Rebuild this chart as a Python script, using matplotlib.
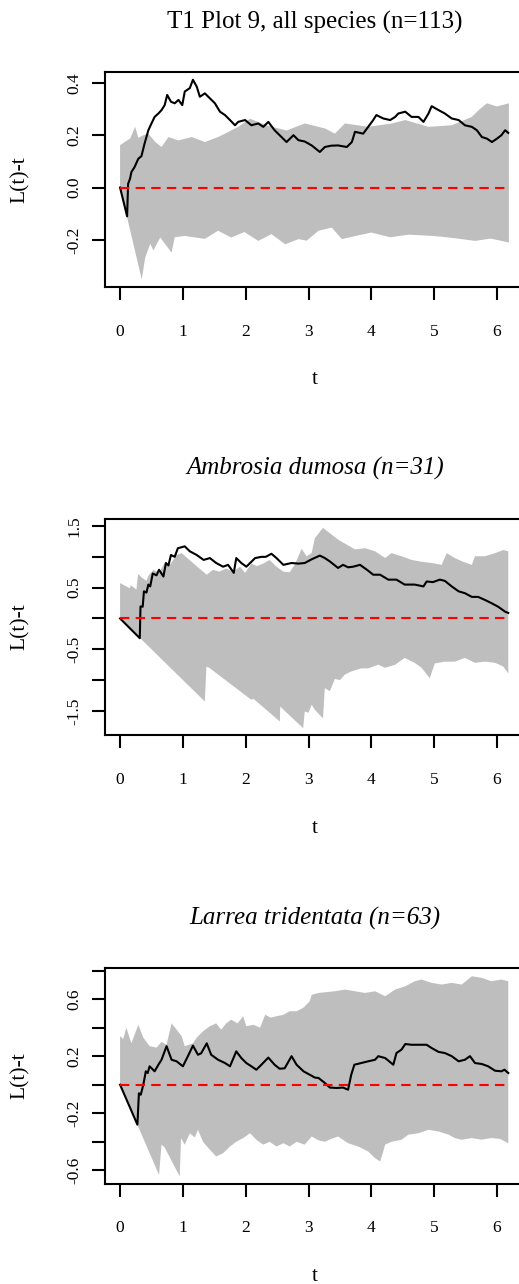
import matplotlib
matplotlib.use("Agg")
import matplotlib.pyplot as plt

plt.rcParams['font.family'] = ['Liberation Serif', 'DejaVu Serif']

#####
#
# values: L(t)-t for each stand, with the
# simulation envelope (upper and lower) in grey
#
#####

T_MAX = 6.19

titles = ["T1 Plot 9, all species (n=113)",
          "Ambrosia dumosa (n=31)",
          "Larrea tridentata (n=63)"]
title_styles = ["normal", "italic", "italic"]

# panel 1 - all species
p1_t = [0, 0.112, 0.128, 0.16, 0.18, 0.23, 0.29, 0.34, 0.39, 0.45, 0.5, 0.55,
        0.61, 0.66, 0.71, 0.75, 0.81, 0.87, 0.93, 0.99, 1.03, 1.11, 1.16, 1.22,
        1.27, 1.35, 1.43, 1.51, 1.59, 1.67, 1.75, 1.83, 1.88, 1.99, 2.09, 2.2,
        2.28, 2.36, 2.46, 2.57, 2.65, 2.76, 2.84, 2.94, 3.05, 3.18, 3.26, 3.36,
        3.47, 3.61, 3.69, 3.74, 3.87, 3.95, 4.03, 4.08, 4.19, 4.3, 4.38, 4.43,
        4.54, 4.64, 4.75, 4.83, 4.91, 4.96, 5.07, 5.17, 5.28, 5.39, 5.49, 5.6,
        5.68, 5.76, 5.84, 5.92, 6.0, 6.07, 6.13, 6.18]
p1_L = [0, -0.11, 0.014, 0.035, 0.059, 0.078, 0.11, 0.12, 0.168, 0.219, 0.245, 0.27,
        0.283, 0.296, 0.315, 0.354, 0.328, 0.322, 0.335, 0.315, 0.367, 0.38, 0.412, 0.386,
        0.347, 0.36, 0.341, 0.322, 0.29, 0.277, 0.258, 0.238, 0.251, 0.258, 0.238, 0.245,
        0.232, 0.251, 0.219, 0.193, 0.174, 0.2, 0.181, 0.176, 0.161, 0.136, 0.155, 0.16,
        0.161, 0.155, 0.174, 0.213, 0.206, 0.232, 0.258, 0.277, 0.264, 0.258, 0.27, 0.283,
        0.29, 0.27, 0.27, 0.251, 0.283, 0.311, 0.296, 0.283, 0.264, 0.258, 0.238, 0.232,
        0.219, 0.193, 0.187, 0.174, 0.187, 0.2, 0.219, 0.209]
p1_hi_t = [0, 0.08, 0.16, 0.24, 0.29, 0.37, 0.45, 0.56, 0.66, 0.77, 0.93, 1.14,
           1.35, 1.56, 1.72, 1.88, 2.07, 2.33, 2.65, 2.94, 3.26, 3.42, 3.58, 3.95,
           4.33, 4.54, 4.91, 5.28, 5.6, 5.71, 5.84, 6.0, 6.19]
p1_hi = [0.162, 0.175, 0.187, 0.232, 0.19, 0.2, 0.206, 0.174, 0.155, 0.193, 0.18, 0.193,
         0.174, 0.193, 0.212, 0.232, 0.263, 0.238, 0.218, 0.245, 0.226, 0.206, 0.245, 0.232,
         0.245, 0.258, 0.232, 0.238, 0.27, 0.296, 0.322, 0.31, 0.322]
p1_lo_t = [0, 0.345, 0.40, 0.48, 0.53, 0.64, 0.74, 0.82, 0.87, 1.03, 1.35, 1.56,
           1.77, 1.98, 2.2, 2.41, 2.63, 2.84, 2.97, 3.16, 3.37, 3.53, 3.75, 4.0,
           4.3, 4.6, 4.98, 5.2, 5.44, 5.65, 5.9, 6.19]
p1_lo = [0, -0.351, -0.268, -0.215, -0.24, -0.191, -0.223, -0.249, -0.19, -0.185, -0.196, -0.165,
         -0.191, -0.17, -0.204, -0.178, -0.217, -0.197, -0.203, -0.165, -0.153, -0.197, -0.185, -0.172,
         -0.19, -0.18, -0.185, -0.19, -0.197, -0.204, -0.195, -0.21]

# panel 2 - Ambrosia dumosa
p2_t = [0, 0.314, 0.325, 0.36, 0.38, 0.42, 0.45, 0.48, 0.52, 0.58, 0.62, 0.69,
        0.73, 0.77, 0.81, 0.87, 0.92, 1.03, 1.11, 1.22, 1.33, 1.43, 1.53, 1.64,
        1.72, 1.81, 1.85, 1.93, 2.01, 2.15, 2.25, 2.32, 2.41, 2.49, 2.6, 2.73,
        2.84, 2.94, 3.05, 3.18, 3.26, 3.34, 3.47, 3.55, 3.63, 3.71, 3.82, 3.93,
        4.03, 4.14, 4.27, 4.4, 4.53, 4.69, 4.83, 4.88, 4.98, 5.09, 5.17, 5.28,
        5.39, 5.49, 5.6, 5.7, 5.81, 5.91, 6.02, 6.13, 6.18]
p2_L = [0, -0.32, 0.195, 0.19, 0.44, 0.42, 0.55, 0.52, 0.73, 0.70, 0.79, 0.68,
        0.90, 0.86, 1.03, 1.0, 1.14, 1.17, 1.09, 1.03, 0.95, 0.98, 0.90, 0.84,
        0.87, 0.74, 0.98, 0.90, 0.84, 0.98, 1.0, 1.0, 1.05, 0.98, 0.87, 0.90,
        0.89, 0.9, 0.96, 1.02, 0.98, 0.925, 0.82, 0.87, 0.83, 0.84, 0.87, 0.79,
        0.71, 0.71, 0.63, 0.63, 0.55, 0.55, 0.52, 0.60, 0.59, 0.63, 0.61, 0.52,
        0.44, 0.41, 0.35, 0.35, 0.30, 0.25, 0.19, 0.11, 0.09]
p2_hi_t = [0, 0.155, 0.17, 0.26, 0.287, 0.35, 0.42, 0.45, 0.53, 0.62, 0.71, 0.80,
           0.90, 0.98, 1.16, 1.38, 1.48, 1.58, 1.69, 1.80, 1.91, 1.99, 2.09, 2.18,
           2.28, 2.38, 2.49, 2.6, 2.7, 2.78, 2.89, 2.97, 3.05, 3.1, 3.23, 3.47,
           3.74, 3.9, 4.06, 4.22, 4.32, 4.48, 4.64, 4.80, 4.96, 5.12, 5.2, 5.33,
           5.46, 5.6, 5.65, 5.81, 5.97, 6.1, 6.18]
p2_hi = [0.574, 0.49, 0.54, 0.47, 0.72, 0.66, 0.61, 0.69, 0.79, 0.74, 0.90, 0.88,
         1.03, 1.06, 0.90, 0.71, 0.79, 0.76, 0.81, 0.76, 0.84, 0.74, 0.89, 0.85,
         0.89, 0.95, 0.84, 0.76, 0.75, 0.87, 1.13, 1.01, 1.06, 1.30, 1.47, 1.28,
         1.12, 1.14, 1.09, 0.98, 1.06, 1.01, 0.95, 0.92, 0.90, 0.87, 1.06, 0.98,
         0.92, 0.87, 1.01, 1.01, 1.06, 1.11, 1.09]
p2_lo_t = [0, 1.349, 1.375, 1.42, 2.09, 2.12, 2.544, 2.55, 2.915, 2.94, 3.0, 3.05,
           3.1, 3.23, 3.26, 3.34, 3.42, 3.5, 3.58, 3.68, 3.84, 3.95, 4.11, 4.22,
           4.38, 4.53, 4.69, 4.8, 4.93, 5.01, 5.17, 5.33, 5.49, 5.65, 5.81, 5.97,
           6.1, 6.18]
p2_lo = [0, -1.347, -0.78, -0.80, -1.32, -1.30, -1.672, -1.43, -1.78, -1.51, -1.53, -1.40,
         -1.48, -1.62, -1.13, -1.18, -0.98, -1.0, -0.91, -0.86, -0.81, -0.81, -0.75, -0.80,
         -0.75, -0.64, -0.72, -0.80, -0.97, -0.73, -0.70, -0.70, -0.64, -0.72, -0.70, -0.72,
         -0.78, -0.89]

# panel 3 - Larrea tridentata
p3_t = [0, 0.276, 0.30, 0.33, 0.37, 0.41, 0.44, 0.47, 0.55, 0.61, 0.66, 0.74,
        0.82, 0.90, 1.0, 1.08, 1.16, 1.24, 1.29, 1.38, 1.45, 1.56, 1.67, 1.75,
        1.85, 1.93, 2.01, 2.09, 2.17, 2.25, 2.36, 2.46, 2.54, 2.62, 2.73, 2.81,
        2.92, 3.02, 3.1, 3.16, 3.26, 3.34, 3.45, 3.55, 3.63, 3.68, 3.73, 3.84,
        3.95, 4.06, 4.11, 4.22, 4.35, 4.40, 4.48, 4.54, 4.64, 4.77, 4.88, 4.96,
        5.07, 5.17, 5.28, 5.39, 5.49, 5.57, 5.65, 5.76, 5.86, 5.97, 6.07, 6.12, 6.18]
p3_L = [0, -0.28, -0.06, -0.07, 0, 0.094, 0.082, 0.129, 0.094, 0.14, 0.175, 0.27,
        0.175, 0.164, 0.129, 0.2, 0.274, 0.21, 0.22, 0.29, 0.21, 0.175, 0.152, 0.129,
        0.234, 0.187, 0.152, 0.129, 0.105, 0.14, 0.19, 0.14, 0.112, 0.115, 0.2, 0.14,
        0.094, 0.07, 0.05, 0.047, 0.012, -0.02, -0.023, -0.02, -0.035, 0.07, 0.14, 0.152,
        0.164, 0.175, 0.2, 0.187, 0.14, 0.222, 0.246, 0.285, 0.28, 0.28, 0.28, 0.257,
        0.23, 0.222, 0.2, 0.164, 0.175, 0.2, 0.152, 0.145, 0.129, 0.098, 0.094, 0.105, 0.082]
p3_hi_t = [0, 0.05, 0.1, 0.18, 0.29, 0.37, 0.47, 0.58, 0.66, 0.74, 0.82, 0.9,
           0.98, 1.03, 1.16, 1.22, 1.32, 1.43, 1.53, 1.61, 1.69, 1.77, 1.87, 1.96,
           2.01, 2.12, 2.23, 2.31, 2.4, 2.49, 2.6, 2.7, 2.81, 2.92, 3.02, 3.05,
           3.16, 3.42, 3.58, 3.74, 3.9, 4.06, 4.22, 4.38, 4.54, 4.69, 4.8, 4.96,
           5.12, 5.28, 5.44, 5.6, 5.76, 5.91, 6.07, 6.18]
p3_hi = [0.34, 0.32, 0.40, 0.29, 0.42, 0.33, 0.27, 0.26, 0.3, 0.28, 0.43, 0.386,
         0.34, 0.27, 0.29, 0.33, 0.374, 0.41, 0.43, 0.386, 0.43, 0.456, 0.43, 0.48,
         0.41, 0.42, 0.40, 0.49, 0.47, 0.48, 0.49, 0.515, 0.515, 0.54, 0.585, 0.63,
         0.643, 0.655, 0.667, 0.655, 0.643, 0.655, 0.62, 0.667, 0.69, 0.725, 0.737, 0.714,
         0.702, 0.714, 0.702, 0.76, 0.749, 0.725, 0.737, 0.725]
p3_lo_t = [0, 0.62, 0.66, 0.71, 0.95, 0.97, 1.03, 1.11, 1.19, 1.24, 1.32, 1.43,
           1.53, 1.64, 1.75, 1.85, 1.96, 2.07, 2.17, 2.28, 2.38, 2.49, 2.6, 2.7,
           2.81, 2.94, 3.05, 3.16, 3.26, 3.36, 3.47, 3.63, 3.79, 3.95, 4.06, 4.14,
           4.19, 4.22, 4.32, 4.48, 4.59, 4.75, 4.91, 5.07, 5.23, 5.33, 5.44, 5.6,
           5.75, 5.91, 6.05, 6.18]
p3_lo = [0, -0.632, -0.42, -0.44, -0.643, -0.374, -0.42, -0.34, -0.37, -0.316, -0.40, -0.456,
         -0.503, -0.48, -0.433, -0.40, -0.374, -0.34, -0.386, -0.42, -0.40, -0.433, -0.41, -0.433,
         -0.40, -0.42, -0.363, -0.39, -0.40, -0.38, -0.363, -0.41, -0.433, -0.468, -0.515, -0.538,
         -0.468, -0.42, -0.40, -0.386, -0.35, -0.34, -0.316, -0.328, -0.35, -0.374, -0.386, -0.374,
         -0.385, -0.374, -0.38, -0.41]

x_ticks = [0, 1, 2, 3, 4, 5, 6]
y_ticks = [[-0.2, 0.0, 0.2, 0.4],
           [-1.5, -1.0, -0.5, 0.0, 0.5, 1.0, 1.5],
           [-0.6, -0.4, -0.2, 0.0, 0.2, 0.4, 0.6, 0.8]]
y_labels = [["-0.2", "0.0", "0.2", "0.4"],
            ["-1.5", "", "-0.5", "", "0.5", "", "1.5"],
            ["-0.6", "", "-0.2", "", "0.2", "", "0.6", ""]]
y_lims = [(-0.38, 0.442), (-1.89, 1.614), (-0.694, 0.818)]

panels = [(p1_t, p1_L, p1_hi_t, p1_hi, p1_lo_t, p1_lo),
          (p2_t, p2_L, p2_hi_t, p2_hi, p2_lo_t, p2_lo),
          (p3_t, p3_L, p3_hi_t, p3_hi, p3_lo_t, p3_lo)]

# axes boxes in figure fractions (bottom, height); the right edge runs off the page
boxes = [(0.7765, 0.1675), (0.4276, 0.1682), (0.0781, 0.1680)]

fig = plt.figure(figsize=(5.19, 12.84), dpi=100)

for i, (t, L, hi_t, hi, lo_t, lo) in enumerate(panels):
    bottom, height = boxes[i]
    ax = fig.add_axes([0.2023, bottom, 0.8085, height])

    # envelope polygon: upper edge left->right, lower edge right->left
    ax.fill(list(hi_t) + list(lo_t)[::-1], list(hi) + list(lo)[::-1],
            color="#bebebe", lw=0)
    ax.plot(t, L, color="black", lw=1.5)
    ax.plot([0, T_MAX], [0, 0], color="red", lw=1.5, linestyle=(0, (4.5, 3)))

    ax.set_xlim(-0.24, 6.44)
    ax.set_ylim(*y_lims[i])
    ax.set_xticks(x_ticks)
    ax.set_xticklabels([str(x) for x in x_ticks])
    ax.set_yticks(y_ticks[i])
    ax.set_yticklabels(y_labels[i], rotation=90, va="center")
    ax.tick_params(direction="out", length=9.4, width=1.5, labelsize=12.5)
    ax.tick_params(axis="x", pad=17)
    ax.tick_params(axis="y", pad=7)

    for side in ["top", "bottom", "left", "right"]:
        ax.spines[side].set_linewidth(1.5)

    ax.set_title(titles[i], fontsize=18, style=title_styles[i],
                 y=1.232, va="center", pad=0)
    ax.set_xlabel("t", fontsize=15.5, va="center")
    ax.xaxis.set_label_coords(0.5, -0.432)
    ax.set_ylabel("L(t)-t", fontsize=15.5, va="center")
    ax.yaxis.set_label_coords(-0.2026, 0.5)

fig.savefig("out.png", dpi=100)
